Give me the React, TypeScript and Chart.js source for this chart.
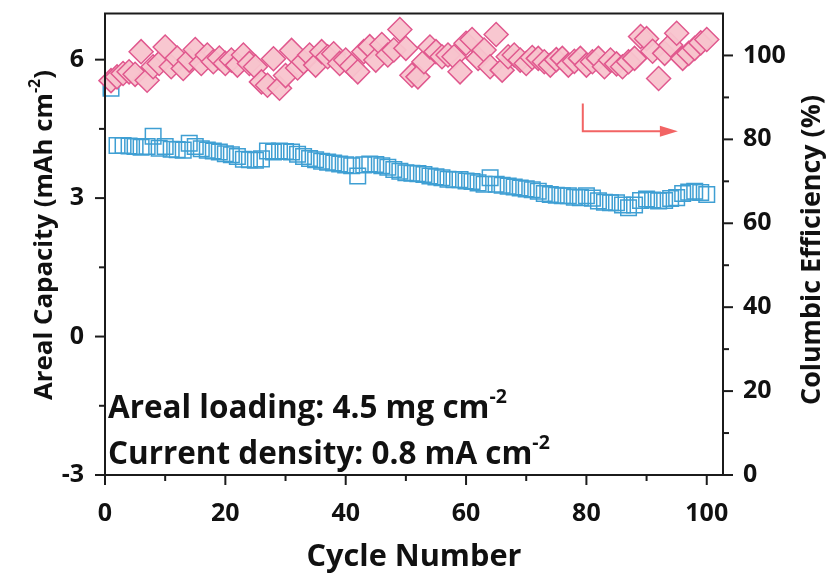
import React, { useEffect, useRef } from 'react';
import { Chart, registerables } from 'chart.js';

Chart.register(...registerables);

// ---------- data ----------
const cycles = [
  1, 2, 3, 4, 5, 6, 7, 8, 9, 10, 11, 12, 13, 14, 15, 16, 17, 18, 19, 20,
  21, 22, 23, 24, 25, 26, 27, 28, 29, 30, 31, 32, 33, 34, 35, 36, 37, 38, 39, 40,
  41, 42, 43, 44, 45, 46, 47, 48, 49, 50, 51, 52, 53, 54, 55, 56, 57, 58, 59, 60,
  61, 62, 63, 64, 65, 66, 67, 68, 69, 70, 71, 72, 73, 74, 75, 76, 77, 78, 79, 80,
  81, 82, 83, 84, 85, 86, 87, 88, 89, 90, 91, 92, 93, 94, 95, 96, 97, 98, 99, 100,
];

const arealCapacity = [
  5.38, 4.14, 4.14, 4.13, 4.12, 4.10, 4.12, 4.34, 4.08, 4.12,
  4.06, 4.05, 4.04, 4.19, 4.12, 4.07, 4.04, 4.02, 4.00, 3.96,
  3.94, 3.90, 3.84, 3.83, 3.82, 3.85, 4.02, 4.00, 4.02, 4.01,
  4.00, 3.95, 3.90, 3.86, 3.83, 3.80, 3.78, 3.76, 3.74, 3.72,
  3.70, 3.48, 3.72, 3.74, 3.73, 3.70, 3.67, 3.62, 3.58, 3.55,
  3.54, 3.53, 3.51, 3.48, 3.46, 3.44, 3.41, 3.40, 3.40, 3.37,
  3.36, 3.33, 3.30, 3.44, 3.30, 3.28, 3.26, 3.24, 3.22, 3.20,
  3.18, 3.15, 3.10, 3.08, 3.06, 3.05, 3.05, 3.02, 3.01, 3.05,
  3.00, 2.94, 2.91, 2.90, 2.90, 2.85, 2.79, 2.85, 2.95, 2.98,
  2.96, 2.94, 2.95, 2.99, 3.01, 3.10, 3.13, 3.15, 3.12, 3.08,
];

const columbicEfficiency = [
  94.0, 94.9, 95.7, 96.1, 95.5, 100.9, 94.1, 97.3, 98.1, 102.0,
  97.3, 99.4, 96.9, 98.9, 101.4, 98.1, 100.1, 98.5, 99.4, 98.1,
  98.9, 97.7, 100.1, 98.1, 97.3, 93.7, 92.9, 99.2, 92.2, 95.2,
  101.2, 97.0, 98.5, 100.1, 97.7, 100.9, 99.7, 100.4, 98.1, 98.9,
  97.5, 96.1, 100.9, 102.1, 98.9, 102.6, 100.1, 101.3, 106.2, 101.7,
  95.3, 94.9, 98.5, 102.0, 100.9, 99.7, 100.1, 99.7, 96.1, 102.9,
  103.8, 99.3, 101.3, 97.3, 105.0, 96.5, 99.7, 100.1, 98.9, 98.1,
  99.5, 99.3, 98.5, 97.7, 99.0, 99.3, 97.7, 98.6, 99.3, 97.7,
  98.5, 99.3, 97.3, 98.9, 98.0, 97.3, 98.5, 99.3, 104.5, 104.0,
  101.0, 94.5, 100.5, 102.5, 105.3, 99.3, 100.5, 101.7, 103.0, 103.8,
];

const xTickLabels = [0, 20, 40, 60, 80, 100];
const leftTickLabels = [-3, 0, 3, 6];
const rightTickLabels = [0, 20, 40, 60, 80, 100];

// arrow pointing to right axis (cycle / left-axis units)
const arrowX = [79.4, 95.2];
const arrowY = [5.05, 4.45];

const annotationLines = [
  { text: 'Areal loading: 4.5 mg cm', sup: '-2', y: -1.56 },
  { text: 'Current density: 0.8 mA cm', sup: '-2', y: -2.57 },
];

const FONT = "'Open Sans', 'DejaVu Sans', sans-serif";

type Part = { t: string; sup?: boolean };

function partsWidth(ctx: CanvasRenderingContext2D, parts: Part[], size: number) {
  let w = 0;
  for (const p of parts) {
    ctx.font = `bold ${p.sup ? size * 0.62 : size}px ${FONT}`;
    w += ctx.measureText(p.t).width;
  }
  return w;
}

function drawParts(ctx: CanvasRenderingContext2D, parts: Part[], size: number, x: number, y: number) {
  let cx = x;
  ctx.textBaseline = 'middle';
  ctx.textAlign = 'left';
  for (const p of parts) {
    const s = p.sup ? size * 0.62 : size;
    ctx.font = `bold ${s}px ${FONT}`;
    ctx.fillText(p.t, cx, p.sup ? y - size * 0.36 : y);
    cx += ctx.measureText(p.t).width;
  }
}

function fitSize(ctx: CanvasRenderingContext2D, parts: Part[], target: number) {
  return (30 * target) / partsWidth(ctx, parts, 30);
}

const decor = {
  id: 'decor',
  afterDatasetsDraw(chart: any) {
    const { ctx, chartArea: a, scales } = chart;
    const sx = scales.x;
    const yl = scales.y;
    const yr = scales.y2;
    ctx.save();
    ctx.strokeStyle = '#1b1b1b';
    ctx.lineWidth = 2;
    ctx.beginPath();
    ctx.rect(a.left, a.top, a.right - a.left, a.bottom - a.top);
    ctx.stroke();

    const line = (x1: number, y1: number, x2: number, y2: number) => {
      ctx.beginPath();
      ctx.moveTo(x1, y1);
      ctx.lineTo(x2, y2);
      ctx.stroke();
    };
    for (let v = 0; v <= 100; v += 10) {
      const px = sx.getPixelForValue(v);
      line(px, a.bottom, px, a.bottom + (v % 20 === 0 ? 10 : 6));
    }
    for (let i = 0; i <= 6; i++) {
      const v = -3 + i * 1.5;
      const py = yl.getPixelForValue(v);
      line(a.left, py, a.left - (i % 2 === 0 ? 10 : 6), py);
    }
    for (let v = 0; v <= 100; v += 10) {
      const py = yr.getPixelForValue(v);
      line(a.right, py, a.right + (v % 20 === 0 ? 10 : 6), py);
    }

    // arrow
    const ax0 = sx.getPixelForValue(arrowX[0]);
    const ax1 = sx.getPixelForValue(arrowX[1]);
    const ay0 = yl.getPixelForValue(arrowY[0]);
    const ay1 = yl.getPixelForValue(arrowY[1]);
    ctx.strokeStyle = '#f26464';
    ctx.fillStyle = '#f26464';
    ctx.lineWidth = 2;
    ctx.beginPath();
    ctx.moveTo(ax0, ay0);
    ctx.lineTo(ax0, ay1);
    ctx.lineTo(ax1 - 14, ay1);
    ctx.stroke();
    ctx.beginPath();
    ctx.moveTo(ax1, ay1);
    ctx.lineTo(ax1 - 18, ay1 - 5.5);
    ctx.lineTo(ax1 - 18, ay1 + 5.5);
    ctx.closePath();
    ctx.fill();

    // annotation text
    ctx.fillStyle = '#111';
    const annParts = annotationLines.map((l) => [{ t: l.text }, { t: l.sup, sup: true }] as Part[]);
    const annSize = fitSize(ctx, annParts[1], 442);
    annotationLines.forEach((l, i) => {
      drawParts(ctx, annParts[i], annSize, a.left + 3, yl.getPixelForValue(l.y));
    });

    // axis titles
    const bottomParts: Part[] = [{ t: 'Cycle Number' }];
    const bs = fitSize(ctx, bottomParts, 215);
    const bw = partsWidth(ctx, bottomParts, bs);
    drawParts(ctx, bottomParts, bs, (a.left + a.right) / 2 - bw / 2, 557);

    const leftParts: Part[] = [{ t: 'Areal Capacity (mAh cm' }, { t: '-2', sup: true }, { t: ')' }];
    const ls = fitSize(ctx, leftParts, 330);
    const lw = partsWidth(ctx, leftParts, ls);
    ctx.save();
    ctx.translate(45, 235);
    ctx.rotate(-Math.PI / 2);
    drawParts(ctx, leftParts, ls, -lw / 2, 0);
    ctx.restore();

    const rightParts: Part[] = [{ t: 'Columbic Efficiency (%)' }];
    const rs = fitSize(ctx, rightParts, 310);
    const rw = partsWidth(ctx, rightParts, rs);
    ctx.save();
    ctx.translate(812, 250);
    ctx.rotate(-Math.PI / 2);
    drawParts(ctx, rightParts, rs, -rw / 2, 0);
    ctx.restore();

    ctx.restore();
  },
};

export default function App() {
  const ref = useRef<HTMLCanvasElement>(null);
  useEffect(() => {
    if (!ref.current) return;
    const tickFont = { family: FONT, size: 25, weight: 'bold' as const };
    const chart = new Chart(ref.current, {
      type: 'scatter',
      data: {
        datasets: [
          {
            label: 'Columbic Efficiency',
            data: cycles.map((c, i) => ({ x: c, y: columbicEfficiency[i] })),
            yAxisID: 'y2',
            pointStyle: 'rectRot',
            pointRadius: 12,
            backgroundColor: 'rgba(248, 196, 206, 0.95)',
            borderColor: '#e0588e',
            borderWidth: 1.5,
            clip: false as any,
            order: 0,
          },
          {
            label: 'Areal Capacity',
            data: cycles.map((c, i) => ({ x: c, y: arealCapacity[i] })),
            yAxisID: 'y',
            pointStyle: 'rect',
            pointRadius: 11,
            backgroundColor: 'rgba(255,255,255,0)',
            borderColor: '#3f9fd3',
            borderWidth: 1.5,
            clip: false as any,
            order: 1,
          },
        ],
      },
      options: {
        responsive: false,
        animation: false,
        layout: { padding: { top: 10, left: 0, right: 0, bottom: 0 } },
        plugins: { legend: { display: false }, tooltip: { enabled: false } },
        scales: {
          x: {
            type: 'linear',
            position: 'bottom',
            min: 0,
            max: 102.7,
            grid: { display: false },
            border: { display: false },
            afterBuildTicks: (s: any) => {
              s.ticks = xTickLabels.map((v) => ({ value: v }));
            },
            afterFit: (s: any) => {
              s.height = 100;
              s.paddingLeft = 0;
              s.paddingRight = 0;
              s.paddingTop = 0;
              s.paddingBottom = 0;
            },
            ticks: { font: tickFont, color: '#111', padding: 16, maxRotation: 0 },
          },
          y: {
            type: 'linear',
            position: 'left',
            min: -3,
            max: 7,
            grid: { display: false },
            border: { display: false },
            afterBuildTicks: (s: any) => {
              s.ticks = leftTickLabels.map((v) => ({ value: v }));
            },
            afterFit: (s: any) => {
              s.width = 105;
              s.paddingTop = 0;
              s.paddingBottom = 0;
              s.paddingLeft = 0;
              s.paddingRight = 0;
            },
            ticks: { font: tickFont, color: '#111', padding: 13 },
          },
          y2: {
            type: 'linear',
            position: 'right',
            min: 0,
            max: 110,
            grid: { display: false },
            border: { display: false },
            afterBuildTicks: (s: any) => {
              s.ticks = rightTickLabels.map((v) => ({ value: v }));
            },
            afterFit: (s: any) => {
              s.width = 111;
              s.paddingTop = 0;
              s.paddingBottom = 0;
              s.paddingLeft = 0;
              s.paddingRight = 0;
            },
            ticks: { font: tickFont, color: '#111', padding: 12 },
          },
        },
      },
      plugins: [decor],
    });
    return () => chart.destroy();
  }, []);
  return (
    <div style={{ position: 'absolute', left: 0, top: 0, width: 834, height: 575, background: '#fff' }}>
      <canvas ref={ref} width={834} height={575} style={{ display: 'block' }} />
    </div>
  );
}
